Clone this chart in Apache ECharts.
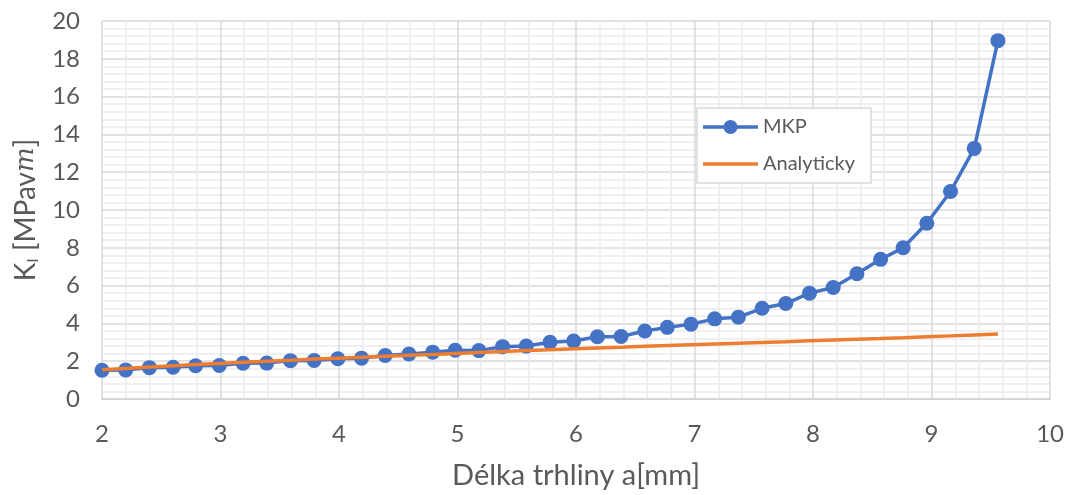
<!DOCTYPE html>
<html>
<head>
<meta charset="utf-8">
<script src="https://cdn.jsdelivr.net/npm/echarts@6/dist/echarts.min.js"></script>
<style>
html,body{margin:0;padding:0;background:#fff;}
#chart{width:1067px;height:495px;}
</style>
</head>
<body>
<div id="chart"></div>
<script>
// crack length a [mm]
var crackLength = [2.00, 2.20, 2.40, 2.60, 2.79, 2.99, 3.19, 3.39, 3.59, 3.79,
  3.99, 4.19, 4.39, 4.59, 4.79, 4.98, 5.18, 5.38, 5.58, 5.78,
  5.98, 6.18, 6.38, 6.58, 6.77, 6.97, 7.17, 7.37, 7.57, 7.77,
  7.97, 8.17, 8.37, 8.57, 8.76, 8.96, 9.16, 9.36, 9.56];
var mkpValues = [1.52, 1.54, 1.66, 1.68, 1.76, 1.77, 1.89, 1.90, 2.03, 2.04,
  2.13, 2.16, 2.30, 2.38, 2.48, 2.58, 2.56, 2.77, 2.80, 3.00,
  3.07, 3.29, 3.31, 3.60, 3.79, 3.96, 4.24, 4.33, 4.80, 5.05,
  5.60, 5.90, 6.63, 7.39, 8.00, 9.30, 10.98, 13.26, 18.96];
var analyticValues = [1.55, 1.62, 1.69, 1.76, 1.82, 1.88, 1.94, 2.00, 2.05, 2.11,
  2.16, 2.21, 2.26, 2.31, 2.36, 2.41, 2.46, 2.51, 2.56, 2.61,
  2.66, 2.70, 2.74, 2.79, 2.83, 2.87, 2.91, 2.95, 2.99, 3.03,
  3.08, 3.12, 3.16, 3.20, 3.24, 3.29, 3.34, 3.39, 3.44];
var seriesNames = ['MKP', 'Analyticky'];
var xTitle = 'Délka trhliny a[mm]';

function pairs(xs, ys) {
  var out = [];
  for (var i = 0; i < xs.length; i++) out.push([xs[i], ys[i]]);
  return out;
}

var FONT = 'Lato, "Open Sans", sans-serif';
var ICON_MARKER = 'path://M0,6 L21,6 L21,9.5 L0,9.5 Z M34,6 L55,6 L55,9.5 L34,9.5 Z M20.5,7.75 A7,7 0 1,1 34.5,7.75 A7,7 0 1,1 20.5,7.75 Z';
var ICON_LINE = 'path://M0,0 L55,0 L55,3.5 L0,3.5 Z';
var chart = echarts.init(document.getElementById('chart'), null, {renderer: 'canvas'});
chart.setOption({
  animation: false,
  backgroundColor: '#ffffff',
  textStyle: {fontFamily: FONT},
  grid: {left: 102, right: 14, top: 21, bottom: 94},
  legend: {
    orient: 'vertical',
    left: 697,
    top: 108,
    padding: [9, 16, 9, 6],
    itemGap: 17,
    itemWidth: 55,
    itemHeight: 15,
    borderColor: '#d9d9d9',
    borderWidth: 1.5,
    backgroundColor: '#ffffff',
    textStyle: {fontFamily: FONT, fontSize: 20, color: '#595959'},
    data: [
      {name: seriesNames[0], icon: ICON_MARKER},
      {name: seriesNames[1], icon: ICON_LINE}
    ]
  },
  xAxis: {
    type: 'value',
    min: 2, max: 10, interval: 1,
    name: xTitle,
    nameLocation: 'middle',
    nameGap: 62,
    nameTextStyle: {fontFamily: FONT, fontSize: 29, color: '#595959'},
    axisLine: {show: true, lineStyle: {color: '#d0d0d0', width: 1.5}},
    axisTick: {show: false},
    axisLabel: {fontSize: 24, color: '#595959', margin: 23, fontFamily: FONT},
    splitLine: {show: true, lineStyle: {color: '#d9d9d9', width: 1.5}},
    minorTick: {show: false, splitNumber: 5},
    minorSplitLine: {show: true, lineStyle: {color: '#ececec', width: 1.5}}
  },
  yAxis: {
    type: 'value',
    min: 0, max: 20, interval: 2,
    name: '{a|K}{sub|I}{a| [MPav}{it|m}{a|]}',
    nameLocation: 'middle',
    nameRotate: 90,
    nameGap: 58,
    nameTextStyle: {
      fontFamily: FONT, fontSize: 28, color: '#595959',
      rich: {
        a: {fontFamily: FONT, fontSize: 28, color: '#595959'},
        sub: {fontFamily: FONT, fontSize: 16, color: '#595959', padding: [14, 0, 0, 0]},
        it: {fontFamily: '"DejaVu Serif", serif', fontStyle: 'italic', fontSize: 26, color: '#595959'}
      }
    },
    axisLine: {show: false},
    axisTick: {show: false},
    axisLabel: {fontSize: 24, color: '#595959', margin: 22, fontFamily: FONT},
    splitLine: {show: true, lineStyle: {color: '#d9d9d9', width: 1.5}},
    minorTick: {show: false, splitNumber: 5},
    minorSplitLine: {show: true, lineStyle: {color: '#ececec', width: 1.5}}
  },
  series: [
    {
      name: seriesNames[0],
      type: 'line',
      data: pairs(crackLength, mkpValues),
      symbol: 'circle',
      symbolSize: 15,
      showSymbol: true,
      itemStyle: {color: '#4472C4'},
      lineStyle: {color: '#4472C4', width: 3.5},
      z: 2
    },
    {
      name: seriesNames[1],
      type: 'line',
      data: pairs(crackLength, analyticValues),
      symbol: 'none',
      showSymbol: false,
      itemStyle: {color: '#ED7D31'},
      lineStyle: {color: '#ED7D31', width: 3.5},
      z: 3
    }
  ]
});
</script>
</body>
</html>
